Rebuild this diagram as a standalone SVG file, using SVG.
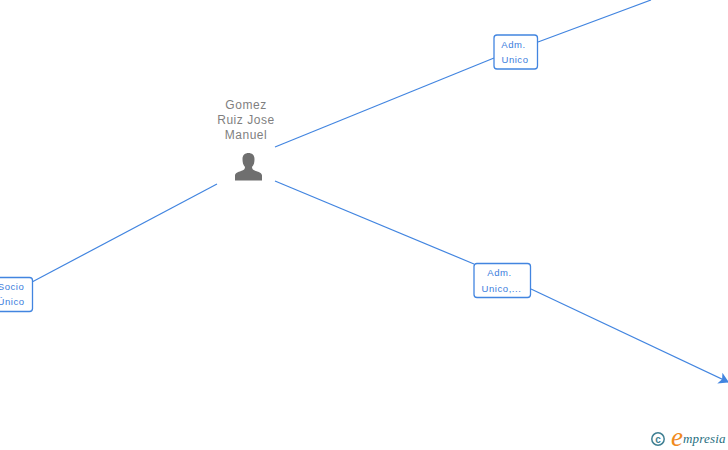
<svg xmlns="http://www.w3.org/2000/svg" width="728" height="450" viewBox="0 0 728 450">
<style>
.edge{fill:none;stroke:#4285e0;stroke-width:1.2}
.box{fill:#fff;stroke:#4285e0;stroke-width:1.3}
.lbl{font-family:"Liberation Sans",Arial,sans-serif;font-size:9.5px;fill:#3b7ddd;text-anchor:middle;letter-spacing:.55px}
.name{font-family:"Liberation Sans",Arial,sans-serif;font-size:12px;fill:#7f7f7f;text-anchor:middle;letter-spacing:.55px}
</style>
<defs><marker id="arrow" markerUnits="userSpaceOnUse" markerWidth="12" markerHeight="14" refX="9" refY="6" orient="auto"><path d="M0 0L10 6L0 12L2.500 6Z" fill="#4285e0"/></marker></defs>
<rect width="728" height="450" fill="#fff"/>
<g id="connectors">
<path class="edge" d="M275 147L494 58"/>
<path class="edge" d="M538 42L651 0"/>
<path class="edge" d="M217 184L32 282"/>
<path class="edge" d="M275 181L474 264"/>
<path class="edge" d="M531 289L728 382" marker-end="url(#arrow)"/>
</g>
<g id="person">
<text class="name" x="246" y="109">Gomez</text>
<text class="name" x="246" y="124">Ruiz Jose</text>
<text class="name" x="246" y="139">Manuel</text>
<path d="M235 180.500V175.500C235 173 238 172 241 171C244 170 245 169 245 167C243 165 242.500 162 242.500 159C242.500 155 245 153 248.500 153C252 153 254.500 155 254.500 159C254.500 162 254 165 252 167C252 169 253 170 256 171C259 172 262 173 262 175.500V180.500Z" fill="#6f6f6f"/>
</g>
<g id="node-adm-unico">
<rect class="box" x="494" y="35" width="43.500" height="34" rx="3"/>
<text class="lbl" x="513.500" y="48">Adm.</text>
<text class="lbl" x="515" y="63">Unico</text>
</g>
<g id="node-adm-unico-2">
<rect class="box" x="474" y="263.500" width="56.500" height="34" rx="3"/>
<text class="lbl" x="499.500" y="276">Adm.</text>
<text class="lbl" x="501.500" y="291.500">Unico,...</text>
</g>
<g id="node-socio-unico">
<rect class="box" x="-20" y="277.500" width="52.500" height="34" rx="3"/>
<text class="lbl" x="11" y="290">Socio</text>
<text class="lbl" x="11" y="305">Único</text>
</g>
<g id="logo">
<circle cx="658" cy="439" r="6.200" fill="none" stroke="#3f7f92" stroke-width="1.500"/>
<text x="658" y="442.500" font-family="Liberation Sans,sans-serif" font-size="10" font-weight="bold" fill="#3f7f92" text-anchor="middle">c</text>
<text x="671" y="446" font-family="Liberation Serif,serif" font-size="27" font-style="italic" fill="#f08a1d">e</text>
<text x="683" y="443" font-family="Liberation Serif,serif" font-size="13" font-style="italic" fill="#1f6f80" letter-spacing=".2">mpresia</text>
</g>
</svg>
